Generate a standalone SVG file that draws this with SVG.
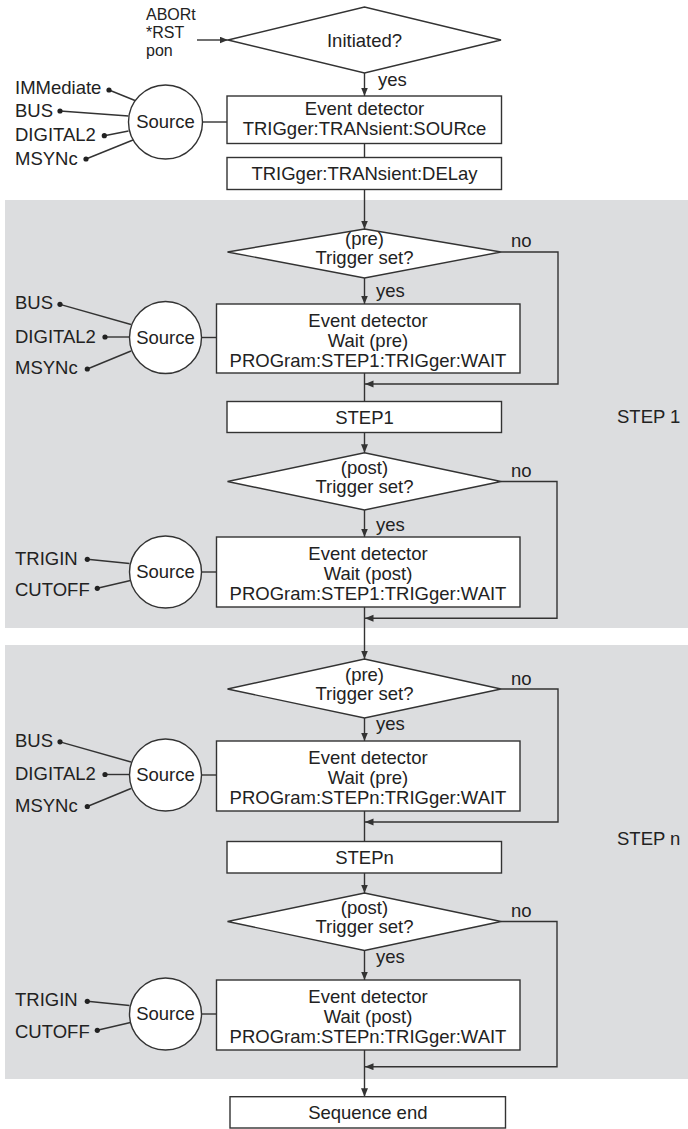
<svg xmlns="http://www.w3.org/2000/svg" width="688" height="1129" viewBox="0 0 688 1129">
<defs>
<style>
text{font-family:"Liberation Sans",Arial,sans-serif;font-size:18.5px;fill:#222}
.c{text-anchor:middle}
.cmd{font-size:16px}
.box{fill:#fff;stroke:#333;stroke-width:1.4}
.ln{fill:none;stroke:#333;stroke-width:1.4}
.dot{fill:#222}
.bg{fill:#dcdddf}
</style>
<marker id="arr" markerWidth="9" markerHeight="8" refX="8.5" refY="3.5" orient="auto" markerUnits="userSpaceOnUse">
<path d="M0,0 L8.5,3.5 L0,7 z" fill="#333"/>
</marker>
</defs>
<rect width="688" height="1129" fill="#fff"/>
<rect id="step1-area" class="bg" x="5" y="200" width="683" height="428"/>
<rect id="stepn-area" class="bg" x="5" y="645" width="683" height="434"/>

<g id="connectors">
<line class="ln" x1="197" y1="40" x2="228" y2="40" marker-end="url(#arr)"/>
<line class="ln" x1="364.5" y1="73" x2="364.5" y2="96" marker-end="url(#arr)"/>
<line class="ln" x1="364.5" y1="143.5" x2="364.5" y2="157.5"/>
<line class="ln" x1="364.5" y1="189.5" x2="364.5" y2="229" marker-end="url(#arr)"/>
<line class="ln" x1="202" y1="122" x2="227" y2="122"/>
<line class="ln" x1="109" y1="90" x2="135" y2="100.5"/>
<line class="ln" x1="60" y1="111" x2="128.5" y2="116"/>
<line class="ln" x1="104.3" y1="135.7" x2="128.5" y2="131"/>
<line class="ln" x1="86" y1="159" x2="133" y2="140"/>
<line class="ln" x1="364.5" y1="278" x2="364.5" y2="304" marker-end="url(#arr)"/>
<polyline class="ln" points="501,252 558,252 558,384 365,384" marker-end="url(#arr)"/>
<line class="ln" x1="364.5" y1="373" x2="364.5" y2="401.5"/>
<line class="ln" x1="201.5" y1="337.5" x2="216.5" y2="337.5"/>
<line class="ln" x1="60" y1="304.3" x2="131" y2="324.5"/>
<line class="ln" x1="105" y1="337" x2="129.5" y2="337"/>
<line class="ln" x1="87.3" y1="369" x2="131" y2="351"/>
<line class="ln" x1="364.5" y1="432.5" x2="364.5" y2="452.7" marker-end="url(#arr)"/>
<line class="ln" x1="364.5" y1="510" x2="364.5" y2="537" marker-end="url(#arr)"/>
<polyline class="ln" points="501,481.5 557,481.5 557,618.3 365,618.3" marker-end="url(#arr)"/>
<line class="ln" x1="201.5" y1="572" x2="216.5" y2="572"/>
<line class="ln" x1="87.3" y1="559.3" x2="129.5" y2="563.5"/>
<line class="ln" x1="97.3" y1="588.3" x2="130.5" y2="580.5"/>
<line class="ln" x1="364.5" y1="607" x2="364.5" y2="659" marker-end="url(#arr)"/>
<line class="ln" x1="364.5" y1="718" x2="364.5" y2="741" marker-end="url(#arr)"/>
<polyline class="ln" points="501,689 558,689 558,822 365,822" marker-end="url(#arr)"/>
<line class="ln" x1="364.5" y1="811" x2="364.5" y2="841.5"/>
<line class="ln" x1="201.5" y1="775" x2="216.5" y2="775"/>
<line class="ln" x1="60" y1="741.8" x2="131" y2="762"/>
<line class="ln" x1="105" y1="774.5" x2="129.5" y2="774.5"/>
<line class="ln" x1="87.3" y1="806.5" x2="131" y2="788.5"/>
<line class="ln" x1="364.5" y1="873" x2="364.5" y2="893" marker-end="url(#arr)"/>
<line class="ln" x1="364.5" y1="950.5" x2="364.5" y2="980" marker-end="url(#arr)"/>
<polyline class="ln" points="501,921.5 557,921.5 557,1066.7 365,1066.7" marker-end="url(#arr)"/>
<line class="ln" x1="201.5" y1="1014" x2="216.5" y2="1014"/>
<line class="ln" x1="87.3" y1="1001.3" x2="129.5" y2="1005.5"/>
<line class="ln" x1="97.3" y1="1030.3" x2="130.5" y2="1022.5"/>
<line class="ln" x1="364.5" y1="1050" x2="364.5" y2="1096.7" marker-end="url(#arr)"/>
</g>

<g id="start-commands">
<text class="cmd" x="146" y="19.5">ABORt</text>
<text class="cmd" x="146" y="37.5">*RST</text>
<text class="cmd" x="146" y="55.5">pon</text>
</g>
<g id="initiated">
<polygon class="box" points="228,40 364.5,7 501,40 364.5,73"/>
<text class="c" x="364.5" y="47">Initiated?</text>
<text x="378" y="86">yes</text>
</g>
<g id="event-detector">
<rect class="box" x="227" y="96" width="274.5" height="47.5"/>
<text class="c" x="364.5" y="115">Event detector</text>
<text class="c" x="364.5" y="134.5">TRIGger:TRANsient:SOURce</text>
</g>
<g id="delay">
<rect class="box" x="227" y="157.5" width="274.5" height="32"/>
<text class="c" x="364.5" y="180">TRIGger:TRANsient:DELay</text>
</g>
<g id="source-0">
<circle class="box" cx="165.5" cy="122" r="37"/>
<text class="c" x="165.5" y="128">Source</text>
</g>
<g id="inputs-0">
<text x="15" y="94">IMMediate</text><circle class="dot" cx="109" cy="90" r="2.6"/>
<text x="15" y="117">BUS</text><circle class="dot" cx="60" cy="111" r="2.6"/>
<text x="15" y="141">DIGITAL2</text><circle class="dot" cx="104.3" cy="135.7" r="2.6"/>
<text x="15" y="164.5">MSYNc</text><circle class="dot" cx="86" cy="159" r="2.6"/>
</g>

<g id="pre1">
<polygon class="box" points="227.5,252 364.5,229 501,252 364.5,278"/>
<text class="c" x="364.5" y="245">(pre)</text>
<text class="c" x="364.5" y="264">Trigger set?</text>
<text x="511" y="247">no</text>
<text x="376" y="297">yes</text>
</g>
<g id="wait-pre1">
<rect class="box" x="216.5" y="304" width="303.5" height="69"/>
<text class="c" x="368" y="326.5">Event detector</text>
<text class="c" x="368" y="346.5">Wait (pre)</text>
<text class="c" x="368" y="366.5">PROGram:STEP1:TRIGger:WAIT</text>
</g>
<g id="source-1">
<circle class="box" cx="165.5" cy="337.5" r="36"/>
<text class="c" x="165.5" y="343.5">Source</text>
</g>
<g id="inputs-1">
<text x="15" y="309">BUS</text><circle class="dot" cx="60" cy="304.3" r="2.6"/>
<text x="15" y="342.5">DIGITAL2</text><circle class="dot" cx="105" cy="337" r="2.6"/>
<text x="15" y="374">MSYNc</text><circle class="dot" cx="87.3" cy="369" r="2.6"/>
</g>
<g id="step1">
<rect class="box" x="227" y="401.5" width="274.5" height="31"/>
<text class="c" x="364.5" y="423.5">STEP1</text>
</g>
<text id="label-step1" x="617" y="423">STEP 1</text>
<g id="post1">
<polygon class="box" points="227.5,481.5 364.5,452.7 501,481.5 364.5,510"/>
<text class="c" x="364.5" y="473.5">(post)</text>
<text class="c" x="364.5" y="492.5">Trigger set?</text>
<text x="511" y="477">no</text>
<text x="376" y="531">yes</text>
</g>
<g id="wait-post1">
<rect class="box" x="216.5" y="537" width="303.5" height="70"/>
<text class="c" x="368" y="559.5">Event detector</text>
<text class="c" x="368" y="579.5">Wait (post)</text>
<text class="c" x="368" y="599.5">PROGram:STEP1:TRIGger:WAIT</text>
</g>
<g id="source-2">
<circle class="box" cx="165.5" cy="572" r="36"/>
<text class="c" x="165.5" y="578">Source</text>
</g>
<g id="inputs-2">
<text x="15" y="564.5">TRIGIN</text><circle class="dot" cx="87.3" cy="559.3" r="2.6"/>
<text x="15" y="596">CUTOFF</text><circle class="dot" cx="97.3" cy="588.3" r="2.6"/>
</g>

<g id="pren">
<polygon class="box" points="227.5,689 364.5,659 501,689 364.5,718"/>
<text class="c" x="364.5" y="681">(pre)</text>
<text class="c" x="364.5" y="700">Trigger set?</text>
<text x="511" y="684.5">no</text>
<text x="376" y="730">yes</text>
</g>
<g id="wait-pren">
<rect class="box" x="216.5" y="741" width="303.5" height="70"/>
<text class="c" x="368" y="763.5">Event detector</text>
<text class="c" x="368" y="783.5">Wait (pre)</text>
<text class="c" x="368" y="803.5">PROGram:STEPn:TRIGger:WAIT</text>
</g>
<g id="source-3">
<circle class="box" cx="165.5" cy="775" r="36"/>
<text class="c" x="165.5" y="781">Source</text>
</g>
<g id="inputs-3">
<text x="15" y="746.5">BUS</text><circle class="dot" cx="60" cy="741.8" r="2.6"/>
<text x="15" y="780">DIGITAL2</text><circle class="dot" cx="105" cy="774.5" r="2.6"/>
<text x="15" y="811.5">MSYNc</text><circle class="dot" cx="87.3" cy="806.5" r="2.6"/>
</g>
<g id="stepn">
<rect class="box" x="227" y="841.5" width="274.5" height="31.5"/>
<text class="c" x="364.5" y="864">STEPn</text>
</g>
<text id="label-stepn" x="617" y="845">STEP n</text>
<g id="postn">
<polygon class="box" points="227.5,921.5 364.5,893 501,921.5 364.5,950.5"/>
<text class="c" x="364.5" y="913.5">(post)</text>
<text class="c" x="364.5" y="932.5">Trigger set?</text>
<text x="511" y="917">no</text>
<text x="376" y="963">yes</text>
</g>
<g id="wait-postn">
<rect class="box" x="216.5" y="980" width="303.5" height="70"/>
<text class="c" x="368" y="1002.5">Event detector</text>
<text class="c" x="368" y="1022.5">Wait (post)</text>
<text class="c" x="368" y="1042.5">PROGram:STEPn:TRIGger:WAIT</text>
</g>
<g id="source-4">
<circle class="box" cx="165.5" cy="1014" r="36"/>
<text class="c" x="165.5" y="1020">Source</text>
</g>
<g id="inputs-4">
<text x="15" y="1006">TRIGIN</text><circle class="dot" cx="87.3" cy="1001.3" r="2.6"/>
<text x="15" y="1037.5">CUTOFF</text><circle class="dot" cx="97.3" cy="1030.3" r="2.6"/>
</g>
<g id="sequence-end">
<rect class="box" x="230" y="1096.7" width="275.5" height="31.3"/>
<text class="c" x="367.8" y="1119">Sequence end</text>
</g>
</svg>
